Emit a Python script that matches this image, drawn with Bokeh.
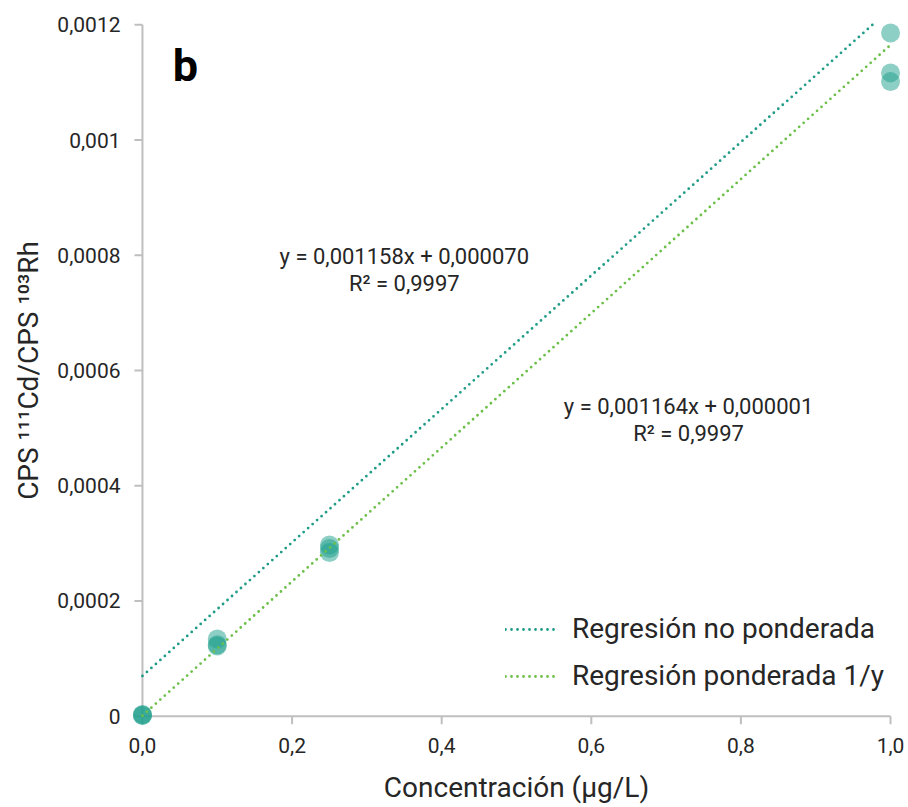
from bokeh.plotting import figure
from bokeh.models import Range1d, FixedTicker, Label, Legend, LegendItem, ColumnDataSource
from bokeh.embed import file_html
from bokeh.resources import INLINE

# ---- data ----
conc_x = [0.0, 0.0, 0.0, 0.1, 0.1, 0.1, 0.25, 0.25, 0.25, 1.0, 1.0, 1.0]
ratio_y = [0.000002, 0.000003, 0.000001,
           0.000134, 0.000124, 0.000122,
           0.000297, 0.000291, 0.000284,
           0.0011856, 0.0011165, 0.0011014]

fit_names = ["Regresión no ponderada", "Regresión ponderada 1/y"]
fit_slopes = [0.001158, 0.001164]
fit_intercepts = [0.000070, 0.000001]
fit_r2 = ["0,9997", "0,9997"]

x_ticks = [0.0, 0.2, 0.4, 0.6, 0.8, 1.0]
x_tick_labels = ["0,0", "0,2", "0,4", "0,6", "0,8", "1,0"]
y_ticks = [0.0, 0.0002, 0.0004, 0.0006, 0.0008, 0.001, 0.0012]
y_tick_labels = ["0", "0,0002", "0,0004", "0,0006", "0,0008", "0,001", "0,0012"]

X_MIN, X_MAX = 0.0, 1.0
Y_MIN, Y_MAX = 0.0, 0.0012

# ---- style ----
FONT = "Roboto"
TEXT = "#262626"
AXIS = "#bfbfbf"
line_colors = ["#1f9c86", "#6cc04a"]
point_color = "#1e9f8b"

# frame padding so that markers at the data edges are not clipped
PAD_X = 0.02
PAD_Y = 0.00003
FRAME_W = 778
FRAME_H = 726
X_PX = FRAME_W / ((X_MAX + PAD_X) - (X_MIN - PAD_X))
Y_PX = FRAME_H / ((Y_MAX + PAD_Y) - (Y_MIN - PAD_Y))
TICK_LEN = 8

p = figure(width=908, height=807, output_backend="svg", toolbar_location=None,
           x_range=Range1d(X_MIN - PAD_X, X_MAX + PAD_X),
           y_range=Range1d(Y_MIN - PAD_Y, Y_MAX + PAD_Y),
           min_border_left=127, min_border_right=3, min_border_top=7, min_border_bottom=74)
p.outline_line_color = None
p.grid.visible = False
p.background_fill_color = "white"
p.border_fill_color = "white"

# axes: labels from Bokeh axes, lines/ticks drawn at the data origin
p.xaxis.ticker = FixedTicker(ticks=x_ticks)
p.yaxis.ticker = FixedTicker(ticks=y_ticks)
p.xaxis.major_label_overrides = dict(zip(x_ticks, x_tick_labels))
p.yaxis.major_label_overrides = dict(zip(y_ticks, y_tick_labels))
for ax in (p.xaxis, p.yaxis):
    ax.axis_line_color = None
    ax.major_tick_line_color = None
    ax.major_tick_in = 0
    ax.major_tick_out = 0
    ax.minor_tick_line_color = None
    ax.major_label_text_font = FONT
    ax.major_label_text_font_size = "21px"
    ax.major_label_text_color = TEXT
    ax.axis_label_text_font = FONT
    ax.axis_label_text_font_size = "28px"
    ax.axis_label_text_font_style = "normal"
    ax.axis_label_text_color = TEXT
p.xaxis.axis_label = "Concentración (µg/L)"
p.yaxis.axis_label = "CPS ¹¹¹Cd/CPS ¹⁰³Rh"
p.xaxis.major_label_standoff = 4
p.yaxis.major_label_standoff = 7
p.xaxis.axis_label_standoff = 15
p.yaxis.axis_label_standoff = 9

tx = TICK_LEN / X_PX
ty = TICK_LEN / Y_PX
axis_src = dict(
    x0=[X_MIN, X_MIN] + [X_MIN] * len(y_ticks) + list(x_ticks),
    y0=[Y_MIN, Y_MIN] + list(y_ticks) + [Y_MIN] * len(x_ticks),
    x1=[X_MIN, X_MAX] + [X_MIN - tx] * len(y_ticks) + list(x_ticks),
    y1=[Y_MAX, Y_MIN] + list(y_ticks) + [Y_MIN - ty] * len(x_ticks),
)
p.segment(x0="x0", y0="y0", x1="x1", y1="y1", source=ColumnDataSource(axis_src),
          line_color=AXIS, line_width=2)

# points
src = ColumnDataSource(dict(x=conc_x, y=ratio_y))
p.scatter("x", "y", source=src, size=19, fill_color=point_color, fill_alpha=0.5, line_color=None)

# regression lines
items = []
for name, m, b, c in zip(fit_names, fit_slopes, fit_intercepts, line_colors):
    x_end = min(X_MAX, (Y_MAX - b) / m)
    xs = [X_MIN, x_end]
    ys = [m * v + b for v in xs]
    r = p.line(xs, ys, line_color=c, line_width=2.8, line_dash="0 6", line_cap="round")
    items.append(LegendItem(label=name, renderers=[r]))

legend = Legend(items=items, location=(378, 41), orientation="vertical",
                label_text_font=FONT, label_text_font_size="28px", label_text_color=TEXT,
                glyph_width=52, glyph_height=30, label_height=30, spacing=14,
                label_standoff=15, padding=0, margin=0,
                border_line_alpha=0, background_fill_alpha=0)
p.add_layout(legend)

# equations
eq_pos = [(0.350, 0.000798, 0.000751), (0.730, 0.000538, 0.000491)]
for (ex, ey1, ey2), m, b, r2 in zip(eq_pos, fit_slopes, fit_intercepts, fit_r2):
    eq = "y = " + f"{m:.6f}".replace(".", ",") + "x + " + f"{b:.6f}".replace(".", ",")
    for txt, yy in ((eq, ey1), ("R² = " + r2, ey2)):
        p.add_layout(Label(x=ex, y=yy, text=txt, text_font=FONT, text_font_size="22px",
                           text_color=TEXT, text_align="center", text_baseline="middle"))

p.add_layout(Label(x=0.0575, y=0.00113, text="b", text_font=FONT, text_font_size="45px",
                   text_font_style="bold", text_color="black", text_align="center",
                   text_baseline="middle"))

open("out.html", "w").write(file_html(p, INLINE))
